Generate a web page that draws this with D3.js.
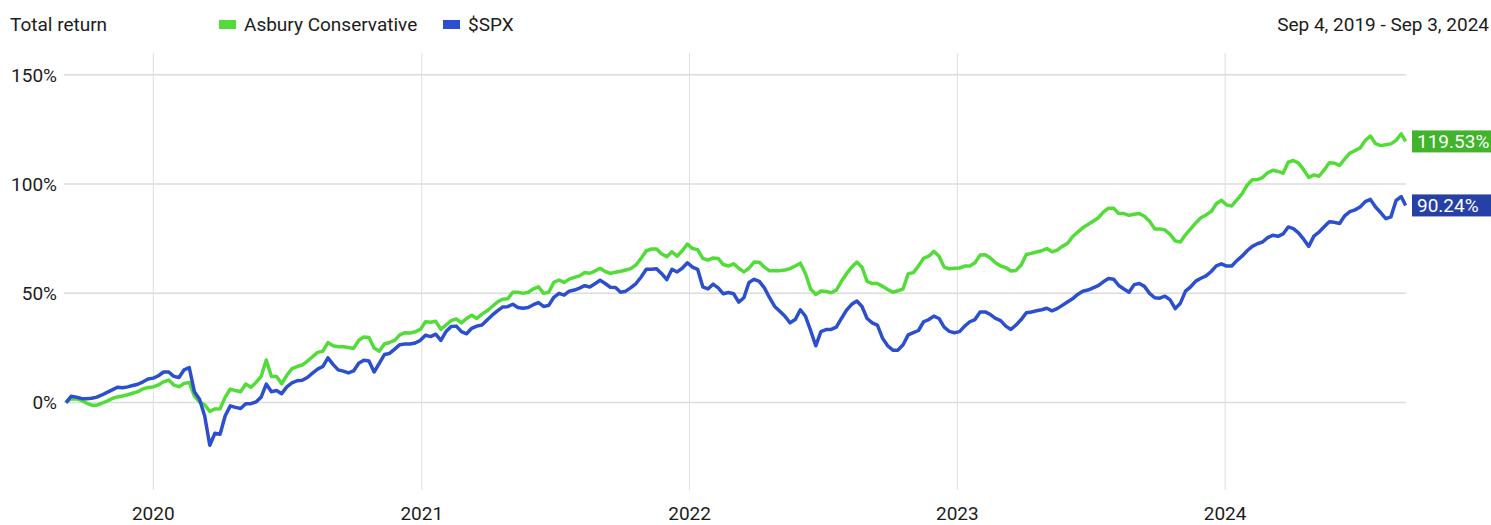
<!DOCTYPE html>
<html>
<head>
<meta charset="utf-8">
<script src="https://cdn.jsdelivr.net/npm/d3@7"></script>
<style>
  body { margin: 0; background: #fff; }
  svg { display: block; font-family: Roboto, sans-serif; }
</style>
</head>
<body>
<svg id="chart" width="1491" height="525"></svg>
<script>
// weekly total return (%) starting Sep 4, 2019, last point Sep 3, 2024
const startDay = '2019-09-04';
const endDay = '2024-09-03';

const asburyValues = [
  0, 1.8, 1.7, 1.0, -0.2, -1.2, -1.2, -0.3, 0.7, 1.9,
  2.6, 3.0, 3.6, 4.3, 5.0, 6.3, 6.9, 7.2, 8.1, 9.5,
  10.3, 8.0, 7.3, 8.8, 9.2, 3.0, 0.3, -1.0, -4.0, -2.9,
  -2.8, 2.5, 6.2, 5.5, 5.0, 8.5, 7.0, 9.2, 12.0, 19.5,
  12.0, 12.0, 8.6, 12.5, 15.5, 16.5, 17.2, 19.0, 21.0, 23.0,
  23.5, 27.5, 26.0, 25.6, 25.6, 25.2, 24.8, 28.5, 30.0, 29.8,
  25.0, 23.5, 26.8, 27.5, 28.5, 31.0, 32.0, 31.8, 32.4, 33.5,
  37.0, 36.8, 37.2, 33.5, 35.5, 37.5, 38.3, 36.5, 38.5, 40.0,
  38.5, 40.5, 42.0, 44.0, 46.0, 47.3, 47.5, 50.5, 50.5, 50.0,
  50.5, 52, 53, 50, 50.5, 55, 56.1, 55, 56.5, 57.3,
  58, 59.5, 59.2, 60.2, 61.5, 60, 59.1, 59.7, 60.1, 60.7,
  61.3, 63, 66, 69.5, 70.3, 70.3, 68, 66.8, 69, 67,
  69.5, 72.5, 70.5, 70, 66, 65.2, 66.2, 66, 63.2, 62.5,
  63.5, 61.5, 59.8, 61.5, 64.3, 64.2, 62, 60.3, 60.4, 60.4,
  60.7, 61.3, 62.5, 63.8, 59, 52, 49.5, 51.1, 50.9, 50.3,
  51.5, 55.5, 59, 62, 64.3, 62, 55.5, 54.5, 54.5, 53.2,
  51.8, 50.5, 51.2, 52, 59, 59.5, 62.5, 66, 67, 69.2,
  67, 62, 61.2, 61.5, 61.6, 62.5, 62.5, 64, 67.5, 67.7,
  66.2, 64, 62.5, 61.8, 60.2, 60.5, 63, 67.8, 68.3, 68.9,
  69.5, 70.5, 69, 69.8, 71.5, 72.8, 75.9, 78, 80, 81.5,
  83, 84.5, 87.2, 89, 89, 86.5, 86.5, 85.7, 86.2, 86.5,
  85.3, 83, 79.5, 79.5, 79, 77, 74, 73.5, 76.8, 79.5,
  82.3, 84.6, 85.9, 87.5, 91, 92.6, 90.5, 90, 92.8, 95.5,
  99.5, 102, 102, 103, 105.2, 106.3, 105.8, 105, 110, 110.8,
  109.6, 106.6, 103, 104.2, 103.6, 106.5, 109.8, 109.6, 108.5, 111.5,
  114.2, 115.3, 116.5, 120, 122, 118.5, 117.6, 118, 118.4, 120, 123,
  119.53
];

const spxValues = [
  0, 2.9, 2.5, 1.9, 1.8, 2.0, 2.5, 3.5, 4.7, 5.8,
  7.0, 6.8, 7.2, 7.8, 8.4, 9.5, 10.8, 11.2, 12.3, 14.0,
  14.0, 12.0, 11.5, 15.0, 16.0, 5.0, 1.5, -6.0, -19.5, -14.0,
  -14.5, -6.0, -1.5, -2.2, -2.7, -0.5, -0.5, 0.3, 2.5, 8.5,
  5.0, 5.5, 4.1, 7.2, 9.0, 10.0, 10.2, 11.5, 13.5, 15.3,
  16.5, 20.5, 17.5, 15.0, 14.4, 13.6, 14.5, 18.0, 19.4, 19.0,
  14.0, 18.0, 22.0, 22.5, 24.5, 26.5, 26.8, 26.8, 27.3, 28.5,
  30.8, 30.2, 31.3, 28.5, 32.5, 34.8, 35.0, 32.5, 31.5, 34.0,
  35.0, 35.5, 37.8, 40.0, 42.0, 43.7, 43.9, 45.0, 43.5, 43.2,
  43.5, 44.8, 45.8, 44, 44.5, 48.2, 50, 49.2, 51, 51.5,
  52.4, 53.5, 52.9, 54.4, 56, 54.5, 52.8, 52.7, 50.5, 51,
  52.6, 54.5, 57.5, 61, 61, 61.3, 59, 56.3, 61, 59.8,
  61.5, 64, 62, 61, 53, 52, 54.2, 52.5, 49.8, 50.4,
  49.8, 46, 48, 55, 56.4, 55.5, 52.5, 48, 44, 41.8,
  39.5, 36.5, 38, 42.5, 39.5, 33, 26, 32.5, 33.4, 33.5,
  34.5, 38.5, 42.3, 45, 46.5, 44, 38.5, 36.5, 35.5, 29.5,
  26, 24, 24, 26.5, 31, 32, 33, 37, 38, 39.6,
  38.5, 34.5, 32.6, 32, 32.5, 35, 37, 38, 41.5, 41.5,
  40.3, 38.5, 37.5, 35, 33.5, 35.5, 38, 41.1, 41.5, 42,
  42.5, 43.2, 42, 43, 44.5, 46, 47.5, 49.5, 51, 51.5,
  52.5, 53.5, 55.3, 56.8, 56.5, 53.6, 52, 50.5, 54, 54.5,
  53.2, 50, 48, 47.8, 48.7, 47, 43, 45.5, 51, 53,
  55.6, 56.9, 58, 60, 62.6, 63.5, 62.5, 62.5, 65, 67,
  69.5, 71.5, 72.7, 73.5, 75.5, 76.6, 76.1, 77.2, 80.4, 79.6,
  77.7, 74.8, 71.5, 76.2, 78, 80.5, 82.8, 82.5, 82, 85.5,
  87.4, 88.2, 89.5, 92, 93, 89.5, 87, 84.2, 85, 92.5, 94.3,
  90.24
];

const seriesNames = ['Asbury Conservative', '$SPX'];
const seriesColors = ['#52dc38', '#2b4fcd'];
const labelColors = ['#40b42a', '#2641a6'];
const yTicks = [0, 50, 100, 150];
const yearTicks = ['2020', '2021', '2022', '2023', '2024'];

const parseDay = d3.timeParse('%Y-%m-%d');
const start = parseDay(startDay);
const end = parseDay(endDay);

// weekly dates, last one is the end date
const dates = asburyValues.map((v, i) =>
  i === asburyValues.length - 1 ? end : d3.timeDay.offset(start, 7 * i));

const series = [asburyValues, spxValues].map((vals, s) => ({
  name: seriesNames[s],
  color: seriesColors[s],
  labelColor: labelColors[s],
  points: vals.map((v, i) => ({ date: dates[i], value: v })),
}));

const svg = d3.select('#chart');

const x = d3.scaleTime()
  .domain([start, end])
  .range([66, 1405.6]);

const y = d3.scaleLinear()
  .domain([-40, 160])
  .range([490, 53]);

const gridLeft = 64;
const gridRight = 1406;

// Grid
svg.append('g')
  .selectAll('line')
  .data(yearTicks.map((t) => parseDay(t + '-01-01')))
  .enter()
  .append('line')
  .attr('x1', (d) => x(d))
  .attr('x2', (d) => x(d))
  .attr('y1', 53)
  .attr('y2', 490)
  .attr('stroke', '#dedede')
  .attr('stroke-width', 1);

svg.append('g')
  .selectAll('line')
  .data(yTicks)
  .enter()
  .append('line')
  .attr('x1', gridLeft)
  .attr('x2', gridRight)
  .attr('y1', (d) => y(d))
  .attr('y2', (d) => y(d))
  .attr('stroke', '#dcdcdc')
  .attr('stroke-width', 1.5);

// Axis labels
svg.append('g')
  .selectAll('text')
  .data(yTicks)
  .enter()
  .append('text')
  .attr('x', 57)
  .attr('y', (d) => y(d))
  .attr('dy', '0.35em')
  .attr('text-anchor', 'end')
  .attr('font-size', 19)
  .attr('fill', '#1c1c1c')
  .text((d) => d + '%');

svg.append('g')
  .selectAll('text')
  .data(yearTicks)
  .enter()
  .append('text')
  .attr('x', (d) => x(parseDay(d + '-01-01')))
  .attr('y', 520)
  .attr('text-anchor', 'middle')
  .attr('font-size', 19)
  .attr('fill', '#1c1c1c')
  .text((d) => d);

// Lines
const line = d3.line()
  .x((d) => x(d.date))
  .y((d) => y(d.value));

svg.append('g')
  .selectAll('path')
  .data(series)
  .enter()
  .append('path')
  .attr('d', (d) => line(d.points))
  .attr('fill', 'none')
  .attr('stroke', (d) => d.color)
  .attr('stroke-width', 3.5)
  .attr('stroke-linejoin', 'round');

// End value labels
const endLabels = svg.append('g')
  .selectAll('g')
  .data(series)
  .enter()
  .append('g')
  .attr('transform', (d) => `translate(1412,${y(d.points[d.points.length - 1].value)})`);

endLabels.append('rect')
  .attr('x', 0)
  .attr('y', -11)
  .attr('width', 79)
  .attr('height', 22)
  .attr('fill', (d) => d.labelColor);

endLabels.append('text')
  .attr('x', 5)
  .attr('dy', '0.35em')
  .attr('font-size', 19)
  .attr('fill', '#fff')
  .text((d) => d3.format('.2f')(d.points[d.points.length - 1].value) + '%');

// Header
svg.append('text')
  .attr('x', 10)
  .attr('y', 31)
  .attr('font-size', 19)
  .attr('fill', '#1c1c1c')
  .text('Total return');

svg.append('text')
  .attr('x', 1489)
  .attr('y', 31)
  .attr('text-anchor', 'end')
  .attr('font-size', 19)
  .attr('fill', '#1c1c1c')
  .text('Sep 4, 2019 - Sep 3, 2024');

const legendX = [219, 443];
const legend = svg.append('g')
  .selectAll('g')
  .data(series)
  .enter()
  .append('g')
  .attr('transform', (d, i) => `translate(${legendX[i]},0)`);

legend.append('rect')
  .attr('x', 0)
  .attr('y', 20)
  .attr('width', 17)
  .attr('height', 9)
  .attr('fill', (d) => d.color);

legend.append('text')
  .attr('x', 25)
  .attr('y', 31)
  .attr('font-size', 19)
  .attr('fill', '#1c1c1c')
  .text((d) => d.name);
</script>
</body>
</html>
